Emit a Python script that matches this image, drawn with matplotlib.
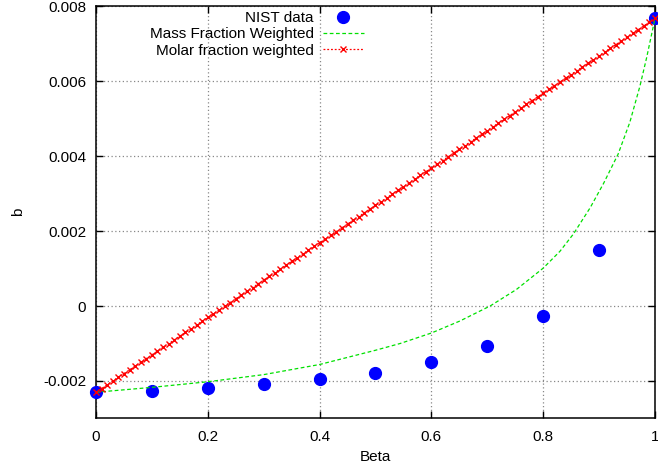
import matplotlib
matplotlib.use('Agg')
import matplotlib.pyplot as plt
from matplotlib.ticker import FuncFormatter

plt.rcParams['font.family'] = ['Liberation Sans', 'DejaVu Sans']
plt.rcParams['axes.unicode_minus'] = False

## Data
nist_beta = [0.0, 0.1, 0.2, 0.3, 0.4, 0.5, 0.6, 0.7, 0.8, 0.9, 1.0]
nist_b = [-0.00230, -0.00227, -0.00219, -0.00209, -0.00196, -0.00178,
          -0.00150, -0.00107, -0.00026, 0.00149, 0.00767]

mass_beta = [0.0, 0.1, 0.2, 0.3, 0.4, 0.5, 0.544, 0.6, 0.651, 0.705, 0.752,
             0.8, 0.83, 0.854, 0.884, 0.908, 0.934, 0.955, 0.973, 0.985,
             0.993, 1.0]
mass_b = [-0.00230, -0.00217, -0.00202, -0.00183, -0.00156, -0.00118, -0.00100,
          -0.00072, -0.00040, 0.00000, 0.00044, 0.00101, 0.00146, 0.00192,
          0.00262, 0.00327, 0.00405, 0.00490, 0.00586, 0.00662, 0.00718, 0.00767]

molar_beta = [0.00, 0.01, 0.02, 0.03, 0.04, 0.05, 0.06, 0.07, 0.08, 0.09,
              0.10, 0.11, 0.12, 0.13, 0.14, 0.15, 0.16, 0.17, 0.18, 0.19,
              0.20, 0.21, 0.22, 0.23, 0.24, 0.25, 0.26, 0.27, 0.28, 0.29,
              0.30, 0.31, 0.32, 0.33, 0.34, 0.35, 0.36, 0.37, 0.38, 0.39,
              0.40, 0.41, 0.42, 0.43, 0.44, 0.45, 0.46, 0.47, 0.48, 0.49,
              0.50, 0.51, 0.52, 0.53, 0.54, 0.55, 0.56, 0.57, 0.58, 0.59,
              0.60, 0.61, 0.62, 0.63, 0.64, 0.65, 0.66, 0.67, 0.68, 0.69,
              0.70, 0.71, 0.72, 0.73, 0.74, 0.75, 0.76, 0.77, 0.78, 0.79,
              0.80, 0.81, 0.82, 0.83, 0.84, 0.85, 0.86, 0.87, 0.88, 0.89,
              0.90, 0.91, 0.92, 0.93, 0.94, 0.95, 0.96, 0.97, 0.98, 0.99, 1.00]
molar_b = [-0.0023000, -0.0022003, -0.0021006, -0.0020009, -0.0019012,
           -0.0018015, -0.0017018, -0.0016021, -0.0015024, -0.0014027,
           -0.0013030, -0.0012033, -0.0011036, -0.0010039, -0.0009042,
           -0.0008045, -0.0007048, -0.0006051, -0.0005054, -0.0004057,
           -0.0003060, -0.0002063, -0.0001066, -0.0000069, 0.0000928,
           0.0001925, 0.0002922, 0.0003919, 0.0004916, 0.0005913,
           0.0006910, 0.0007907, 0.0008904, 0.0009901, 0.0010898,
           0.0011895, 0.0012892, 0.0013889, 0.0014886, 0.0015883,
           0.0016880, 0.0017877, 0.0018874, 0.0019871, 0.0020868,
           0.0021865, 0.0022862, 0.0023859, 0.0024856, 0.0025853,
           0.0026850, 0.0027847, 0.0028844, 0.0029841, 0.0030838,
           0.0031835, 0.0032832, 0.0033829, 0.0034826, 0.0035823,
           0.0036820, 0.0037817, 0.0038814, 0.0039811, 0.0040808,
           0.0041805, 0.0042802, 0.0043799, 0.0044796, 0.0045793,
           0.0046790, 0.0047787, 0.0048784, 0.0049781, 0.0050778,
           0.0051775, 0.0052772, 0.0053769, 0.0054766, 0.0055763,
           0.0056760, 0.0057757, 0.0058754, 0.0059751, 0.0060748,
           0.0061745, 0.0062742, 0.0063739, 0.0064736, 0.0065733,
           0.0066730, 0.0067727, 0.0068724, 0.0069721, 0.0070718,
           0.0071715, 0.0072712, 0.0073709, 0.0074706, 0.0075703, 0.0076700]

x_ticks = [0, 0.2, 0.4, 0.6, 0.8, 1]
y_ticks = [-0.002, 0, 0.002, 0.004, 0.006, 0.008]

## Plotting
fig = plt.figure(figsize=(6.58, 4.70), dpi=100)
ax = fig.add_axes([0.1459, 0.1096, 0.8495, 0.8774])

ax.plot(nist_beta, nist_b, 'o', color='#0000ff', markersize=8.5,
        label='NIST data', zorder=3, clip_on=False)
ax.plot(mass_beta, mass_b, color='#00e000', linestyle=(0, (3, 2)),
        linewidth=0.9, label='Mass Fraction Weighted', zorder=4)
ax.plot(molar_beta, molar_b, color='#ff0000', linestyle=(0, (1.5, 1.5)),
        linewidth=0.9, marker='x', markersize=4.5, markeredgewidth=1.0,
        label='Molar fraction weighted', zorder=5, clip_on=False)

ax.set_xlim(0, 1)
ax.set_ylim(-0.003, 0.008)
ax.set_xticks(x_ticks)
ax.set_yticks(y_ticks)
fmt = FuncFormatter(lambda v, pos: '0' if abs(v) < 1e-12 else f'{v:g}')
ax.xaxis.set_major_formatter(fmt)
ax.yaxis.set_major_formatter(fmt)
ax.tick_params(direction='in', top=True, right=True, length=5, width=1,
               labelsize=11, colors='black')
ax.tick_params(axis='x', pad=8.5)
ax.tick_params(axis='y', pad=7)
for s in ax.spines.values():
    s.set_linewidth(1.1)
ax.grid(True, color='#888888', linestyle=(0, (1, 2)), linewidth=0.9)

ax.set_xlabel('Beta', fontsize=11, labelpad=4)
ax.set_ylabel('b', fontsize=11, labelpad=13)

leg = ax.legend(loc='upper right', bbox_to_anchor=(364 / 658, 1 - 11 / 470),
                bbox_transform=fig.transFigure, frameon=False, markerfirst=False,
                numpoints=1, fontsize=11, handlelength=2.7, handletextpad=0.6,
                labelspacing=0.15, borderpad=0, borderaxespad=0)

fig.savefig('out.png', dpi=100)
plt.close('all')
